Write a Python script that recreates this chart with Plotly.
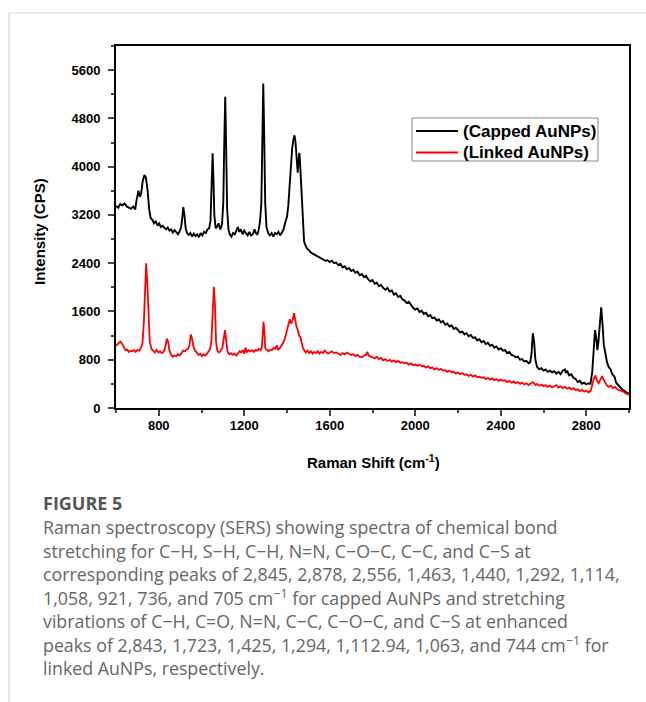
import plotly.graph_objects as go

# Raman shift (cm-1) / intensity (CPS)
capped_x = [600, 610, 620, 630, 640, 650, 660, 670, 680, 690, 695, 700, 705, 712, 718, 725, 733, 740, 748, 755,
            762, 770, 778, 786, 794, 802, 810, 818, 826, 834, 842, 850, 858, 866, 874, 882, 890, 898, 905, 910,
            915, 920, 926, 932, 940, 948, 956, 964, 972, 980, 988, 996, 1004, 1012, 1020, 1028, 1036, 1042, 1048, 1052,
            1056, 1060, 1066, 1072, 1080, 1088, 1096, 1102, 1106, 1111, 1115, 1120, 1126, 1132, 1140, 1148, 1156, 1164, 1170, 1176,
            1184, 1192, 1200, 1208, 1216, 1224, 1232, 1240, 1248, 1254, 1262, 1268, 1274, 1280, 1285, 1289, 1293, 1298, 1304, 1312,
            1320, 1328, 1336, 1344, 1352, 1360, 1368, 1376, 1384, 1392, 1400, 1406, 1412, 1418, 1424, 1430, 1435, 1440, 1445, 1450,
            1454, 1458, 1462, 1468, 1474, 1480, 1486, 1494, 1502, 1510, 1520, 1530, 1540, 1550, 1560, 1570, 1580, 1590, 1600, 1610,
            1620, 1630, 1640, 1650, 1660, 1670, 1680, 1690, 1700, 1710, 1720, 1730, 1740, 1750, 1760, 1770, 1780, 1790, 1800, 1810,
            1820, 1830, 1840, 1850, 1860, 1870, 1880, 1890, 1900, 1910, 1920, 1930, 1940, 1950, 1960, 1970, 1980, 1990, 2000, 2010,
            2020, 2030, 2040, 2050, 2060, 2070, 2080, 2090, 2100, 2110, 2120, 2130, 2140, 2150, 2160, 2170, 2180, 2190, 2200, 2210,
            2220, 2230, 2240, 2250, 2260, 2270, 2280, 2290, 2300, 2310, 2320, 2330, 2340, 2350, 2360, 2370, 2380, 2390, 2400, 2410,
            2420, 2430, 2440, 2450, 2460, 2470, 2480, 2490, 2500, 2510, 2520, 2530, 2538, 2544, 2550, 2556, 2562, 2570, 2580, 2590,
            2600, 2610, 2620, 2630, 2640, 2650, 2660, 2670, 2680, 2690, 2700, 2705, 2710, 2720, 2730, 2740, 2750, 2760, 2770, 2780,
            2790, 2800, 2810, 2820, 2828, 2835, 2841, 2847, 2852, 2857, 2863, 2870, 2876, 2882, 2890, 2897, 2905, 2914, 2922, 2932,
            2940, 2950, 2960, 2970, 2980, 2990, 3000]
capped_y = [3350, 3320, 3380, 3360, 3390, 3340, 3320, 3300, 3340, 3290, 3420, 3560, 3600, 3500, 3560, 3760, 3860, 3820, 3600, 3300,
            3150, 3120, 3060, 3100, 3020, 3060, 3000, 3020, 2990, 2960, 2990, 2940, 2960, 2910, 2950, 2920, 2880, 2930, 3000, 3150,
            3330, 3200, 2980, 2900, 2870, 2900, 2840, 2890, 2850, 2880, 2830, 2900, 2860, 2920, 2900, 2960, 2980, 3100, 3600, 4220,
            3800, 3200, 2980, 3000, 3060, 2960, 3050, 3400, 4300, 5160, 4400, 3300, 2960, 2880, 2840, 2900, 2880, 2940, 3000, 2920,
            2960, 2880, 2940, 2900, 2860, 2920, 2860, 2880, 2960, 2900, 2880, 2960, 3100, 3400, 4300, 5380, 4600, 3400, 3000, 2900,
            2860, 2900, 2840, 2900, 2880, 2920, 2860, 2900, 2960, 3080, 3170, 3350, 3700, 4100, 4300, 4450, 4520, 4400, 4050, 3900,
            4100, 4230, 4000, 3500, 3000, 2760, 2700, 2640, 2620, 2580, 2560, 2540, 2520, 2500, 2480, 2460, 2440, 2450, 2420, 2440,
            2400, 2410, 2370, 2390, 2330, 2350, 2300, 2320, 2270, 2290, 2240, 2260, 2200, 2220, 2170, 2190, 2130, 2100, 2120, 2060,
            2080, 2020, 2040, 1990, 1960, 1990, 1930, 1950, 1880, 1900, 1840, 1860, 1800, 1780, 1740, 1760, 1700, 1660, 1630, 1650,
            1590, 1610, 1560, 1580, 1520, 1540, 1490, 1500, 1450, 1470, 1420, 1440, 1380, 1400, 1350, 1370, 1310, 1330, 1290, 1250,
            1270, 1220, 1240, 1190, 1210, 1160, 1170, 1120, 1140, 1090, 1110, 1060, 1080, 1030, 1050, 1000, 1020, 970, 990, 950,
            960, 910, 930, 880, 870, 840, 850, 800, 810, 770, 780, 740, 760, 900, 1240, 1100, 800, 680, 640, 660,
            620, 640, 600, 620, 590, 610, 570, 600, 560, 620, 640, 580, 620, 540, 560, 500, 480, 430, 450, 400,
            420, 390, 410, 400, 600, 1000, 1290, 1150, 960, 1100, 1450, 1670, 1400, 1050, 900, 760, 680, 640, 560, 520,
            420, 380, 330, 300, 280, 250, 240]

linked_x = [600, 610, 620, 628, 636, 644, 652, 660, 668, 676, 684, 692, 700, 708, 716, 724, 730, 736, 741, 746,
            752, 758, 766, 774, 782, 790, 798, 806, 814, 822, 830, 838, 844, 850, 858, 866, 874, 882, 890, 898,
            906, 914, 922, 930, 938, 944, 950, 956, 962, 970, 978, 986, 994, 1002, 1010, 1018, 1026, 1034, 1040, 1046,
            1052, 1058, 1063, 1068, 1074, 1080, 1086, 1092, 1098, 1104, 1110, 1116, 1122, 1130, 1138, 1146, 1154, 1162, 1170, 1178,
            1186, 1194, 1200, 1206, 1212, 1220, 1228, 1236, 1244, 1252, 1260, 1268, 1276, 1282, 1286, 1290, 1294, 1298, 1306, 1314,
            1322, 1330, 1338, 1346, 1352, 1358, 1366, 1374, 1382, 1390, 1398, 1406, 1413, 1420, 1426, 1433, 1438, 1444, 1450, 1456,
            1462, 1468, 1474, 1480, 1488, 1496, 1504, 1512, 1520, 1528, 1536, 1544, 1552, 1560, 1568, 1576, 1584, 1592, 1600, 1610,
            1620, 1630, 1640, 1650, 1660, 1670, 1680, 1690, 1700, 1710, 1720, 1730, 1740, 1750, 1760, 1770, 1776, 1782, 1790, 1800,
            1810, 1820, 1830, 1840, 1850, 1860, 1870, 1880, 1890, 1900, 1910, 1920, 1930, 1940, 1950, 1960, 1970, 1980, 1990, 2000,
            2010, 2020, 2030, 2040, 2050, 2060, 2070, 2080, 2090, 2100, 2110, 2120, 2130, 2140, 2150, 2160, 2170, 2180, 2190, 2200,
            2210, 2220, 2230, 2240, 2250, 2260, 2270, 2280, 2290, 2300, 2310, 2320, 2330, 2340, 2350, 2360, 2370, 2380, 2390, 2400,
            2410, 2420, 2430, 2440, 2450, 2460, 2470, 2480, 2490, 2500, 2510, 2520, 2530, 2540, 2550, 2556, 2562, 2570, 2580, 2590,
            2600, 2610, 2620, 2630, 2640, 2650, 2660, 2670, 2680, 2690, 2700, 2710, 2720, 2730, 2740, 2750, 2760, 2770, 2780, 2790,
            2800, 2810, 2820, 2828, 2835, 2843, 2850, 2858, 2866, 2874, 2880, 2888, 2896, 2905, 2915, 2925, 2935, 2945, 2955, 2965,
            2975, 2985, 3000]
linked_y = [1030, 1060, 1100, 1070, 1000, 960, 970, 930, 950, 940, 960, 930, 960, 950, 990, 1080, 1400, 1900, 2400, 2100,
            1500, 1100, 980, 950, 920, 960, 920, 940, 910, 930, 1000, 1150, 1100, 950, 880, 850, 870, 860, 890, 870,
            920, 950, 940, 970, 980, 1050, 1220, 1150, 1020, 950, 920, 880, 900, 860, 890, 870, 900, 950, 980, 1100,
            1500, 2010, 1700, 1100, 950, 920, 930, 960, 1000, 1150, 1290, 1100, 930, 890, 910, 880, 900, 870, 900, 940,
            920, 960, 900, 1000, 930, 960, 940, 960, 930, 960, 950, 980, 960, 1000, 1200, 1430, 1280, 1000, 960, 940,
            970, 960, 1000, 980, 1040, 970, 990, 1030, 1080, 1150, 1250, 1350, 1470, 1400, 1450, 1570, 1450, 1350, 1300, 1200,
            1180, 1080, 1000, 960, 920, 950, 910, 940, 900, 930, 910, 940, 900, 930, 910, 950, 920, 900, 920, 940,
            910, 920, 900, 880, 910, 890, 920, 900, 880, 890, 860, 880, 850, 840, 870, 880, 930, 870, 850, 840,
            820, 850, 810, 830, 790, 810, 780, 800, 770, 790, 760, 780, 750, 760, 740, 750, 720, 740, 710, 720,
            700, 720, 690, 700, 670, 690, 660, 670, 640, 660, 630, 650, 620, 630, 600, 620, 590, 600, 570, 590,
            560, 580, 550, 560, 530, 550, 520, 540, 510, 520, 500, 510, 480, 500, 470, 490, 460, 480, 450, 470,
            450, 460, 430, 450, 420, 440, 410, 430, 400, 420, 390, 410, 380, 400, 430, 410, 380, 400, 370, 390,
            360, 380, 350, 370, 340, 360, 380, 340, 360, 330, 350, 320, 340, 310, 330, 300, 310, 280, 300, 270,
            290, 260, 280, 380, 480, 540, 450, 410, 460, 530, 480, 420, 380, 350, 370, 330, 350, 310, 300, 280,
            270, 240, 220]

series_names = ["(Capped AuNPs)", "(Linked AuNPs)"]
series_colors = ["black", "#ff0000"]

caption_title = "FIGURE 5"
caption_lines = [
    "Raman spectroscopy (SERS) showing spectra of chemical bond",
    "stretching for C−H, S−H, C−H, N=N, C−O−C, C−C, and C−S at",
    "corresponding peaks of 2,845, 2,878, 2,556, 1,463, 1,440, 1,292, 1,114,",
    "1,058, 921, 736, and 705 cm<sup>−1</sup> for capped AuNPs and stretching",
    "vibrations of C−H, C=O, N=N, C−C, C−O−C, and C−S at enhanced",
    "peaks of 2,843, 1,723, 1,425, 1,294, 1,112.94, 1,063, and 744 cm<sup>−1</sup> for",
    "linked AuNPs, respectively.",
]

W, H = 646, 702
L, R, T, B = 116, 17, 46, 294
pw, ph = W - L - R, H - T - B


def px(x):
    return (x - L) / pw


def py(y):
    return (H - B - y) / ph


fig = go.Figure()
fig.add_trace(go.Scatter(x=capped_x, y=capped_y, mode="lines", name=series_names[0],
                         line=dict(color=series_colors[0], width=1.9)))
fig.add_trace(go.Scatter(x=linked_x, y=linked_y, mode="lines", name=series_names[1],
                         line=dict(color=series_colors[1], width=1.8)))

axis_font = dict(family="Liberation Sans, Arial", size=13, color="black", weight="bold")
fig.update_xaxes(range=[600, 3000], tick0=800, dtick=400, ticks="outside", ticklen=6, tickwidth=1.5,
                 showline=True, linewidth=1.8, linecolor="black", mirror=True, showgrid=False, zeroline=False,
                 tickfont=axis_font, ticklabelstandoff=-2,
                 minor=dict(dtick=200, tick0=600, ticks="outside", ticklen=3, tickwidth=1.5))
fig.update_yaxes(range=[0, 6000], tick0=0, dtick=800, ticks="outside", ticklen=6, tickwidth=1.5,
                 showline=True, linewidth=1.8, linecolor="black", mirror=True, showgrid=False, zeroline=False,
                 tickfont=axis_font, ticklabelstandoff=5,
                 minor=dict(dtick=400, ticks="outside", ticklen=3, tickwidth=1.5))

bold = dict(family="Liberation Sans, Arial", color="black", weight="bold")
ann = [
    dict(text="Raman Shift (cm<sup>-1</sup>)", x=px(373), y=py(461), xanchor="center", yanchor="middle",
         font=dict(size=15, **bold)),
    dict(text="Intensity (CPS)", x=px(39), y=py(232), xanchor="center", yanchor="middle", textangle=-90,
         font=dict(size=15, **bold)),
    dict(text=caption_title, x=px(41), y=py(503), xanchor="left", yanchor="middle",
         font=dict(family="Open Sans", size=18, color="#555555", weight="bold")),
]
for i, line in enumerate(caption_lines):
    ann.append(dict(text=line, x=px(41), y=py(527 + i * 23.5), xanchor="left", yanchor="middle",
                    font=dict(family="Open Sans", size=17.8, color="#666666")))

# legend box drawn by hand so that its size matches
leg_rows = [131, 152.5]
for name, color, yy in zip(series_names, series_colors, leg_rows):
    ann.append(dict(text=name, x=px(461), y=py(yy), xanchor="left", yanchor="middle",
                    font=dict(size=17, **bold)))
for a in ann:
    a.update(xref="paper", yref="paper", showarrow=False)

border = dict(color="#d6d6d6", width=1.2)
shapes = [
    dict(type="line", x0=px(9), x1=px(646), y0=py(13), y1=py(13), line=border),
    dict(type="line", x0=px(9), x1=px(9), y0=py(13), y1=py(702), line=border),
    dict(type="rect", x0=px(412), x1=px(598), y0=py(118), y1=py(161), line=dict(color="#888888", width=1),
         fillcolor="white"),
]
for color, yy in zip(series_colors, leg_rows):
    shapes.append(dict(type="line", x0=px(416), x1=px(458), y0=py(yy), y1=py(yy),
                       line=dict(color=color, width=2)))
for s in shapes:
    s.update(xref="paper", yref="paper")

fig.update_layout(
    width=W, height=H,
    margin=dict(l=L, r=R, t=T, b=B),
    paper_bgcolor="white", plot_bgcolor="white",
    showlegend=False,
    annotations=ann,
    shapes=shapes,
)

fig.write_html("out.html", config={"displayModeBar": False},
               post_script="document.body.style.margin='0px';")
